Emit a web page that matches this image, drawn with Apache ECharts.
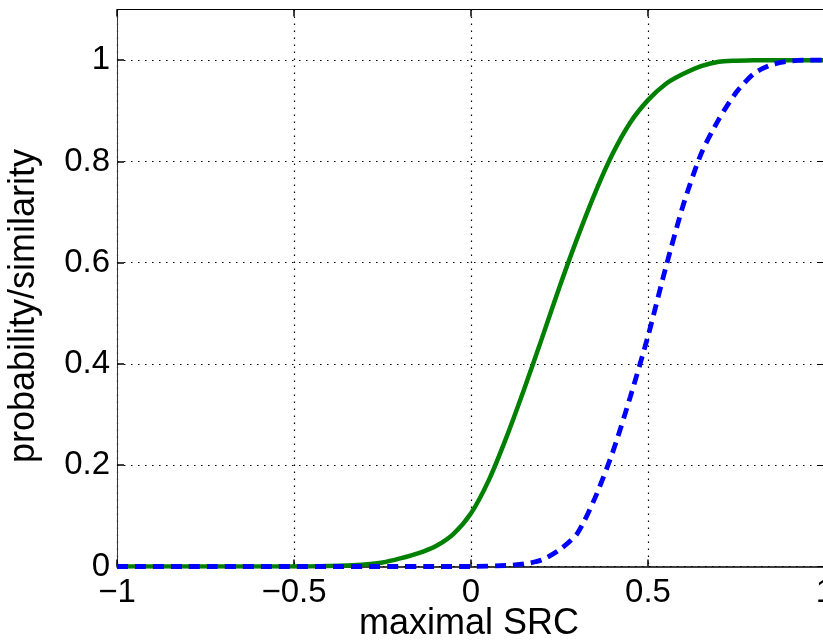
<!DOCTYPE html>
<html>
<head>
<meta charset="utf-8">
<script src="https://cdn.jsdelivr.net/npm/echarts@6/dist/echarts.min.js"></script>
<style>
html, body { margin: 0; padding: 0; background: #fff; }
#chart { width: 823px; height: 642px; }
</style>
</head>
<body>
<div id="chart"></div>
<script>
// x positions and values
var greenX = [-1, -0.5, -0.4, -0.35, -0.3, -0.25, -0.2, -0.15, -0.1, -0.05, 0, 0.05, 0.1, 0.15, 0.2, 0.25, 0.3, 0.35, 0.4, 0.45, 0.5, 0.55, 0.6, 0.65, 0.7, 0.75, 0.8, 0.9, 1];
var greenY = [0, 0, 0.001, 0.002, 0.004, 0.008, 0.016, 0.026, 0.04, 0.064, 0.105, 0.17, 0.255, 0.35, 0.45, 0.552, 0.648, 0.737, 0.815, 0.877, 0.921, 0.953, 0.973, 0.988, 0.997, 0.999, 1, 1, 1];
var blueX = [-1, 0, 0.1, 0.15, 0.2, 0.25, 0.3, 0.35, 0.4, 0.45, 0.5, 0.55, 0.6, 0.65, 0.7, 0.75, 0.8, 0.85, 0.9, 0.95, 1];
var blueY = [0, 0, 0.002, 0.005, 0.013, 0.033, 0.065, 0.135, 0.225, 0.335, 0.455, 0.59, 0.715, 0.815, 0.883, 0.937, 0.974, 0.991, 0.998, 1, 1];
var xTicks = [-1, -0.5, 0, 0.5, 1];
var yTicks = [0, 0.2, 0.4, 0.6, 0.8, 1];
var xName = 'maximal SRC';
var yName = 'probability/similarity';

function pairs(xs, ys) { return xs.map(function (x, i) { return [x, ys[i]]; }); }
var FONT = 'Liberation Sans, Arial, Helvetica, sans-serif';

var chart = echarts.init(document.getElementById('chart'), null, { renderer: 'canvas' });
var gridLine = { show: true, lineStyle: { color: '#000', width: 1.2, type: [1.5, 5.5] } };
chart.setOption({
  animation: false,
  backgroundColor: '#fff',
  grid: { left: 117, right: -2, top: 9.5, bottom: 75.5, containLabel: false, outerBoundsMode: 'none' },
  xAxis: [{
    type: 'value', min: -1, max: 1, interval: 0.5, position: 'bottom',
    axisLine: { show: true, onZero: false, lineStyle: { color: '#000', width: 1.5 } },
    axisTick: { show: true, inside: true, length: 7, customValues: xTicks, lineStyle: { color: '#000', width: 1.5 } },
    axisLabel: { customValues: xTicks, showMinLabel: true, showMaxLabel: true, hideOverlap: false, color: '#000', fontSize: 33, fontFamily: FONT, margin: 10,
      formatter: function (v) { return String(v).replace('-', '\u2212'); } },
    splitLine: gridLine
  }, {
    type: 'value', min: -1, max: 1, interval: 0.5, position: 'top',
    axisLine: { show: true, onZero: false, lineStyle: { color: '#000', width: 1 } },
    axisTick: { show: true, inside: true, length: 7, customValues: xTicks, lineStyle: { color: '#000', width: 1.5 } },
    axisLabel: { show: false }, splitLine: { show: false }
  }],
  yAxis: [{
    type: 'value', min: 0, max: 1.1, interval: 0.2, position: 'left',
    axisLine: { show: true, onZero: false, lineStyle: { color: '#333', width: 1 } },
    axisTick: { show: true, inside: true, length: 7, customValues: yTicks, lineStyle: { color: '#000', width: 1.5 } },
    axisLabel: { customValues: yTicks, color: '#000', fontSize: 33, fontFamily: FONT, margin: 7,
      formatter: function (v) { return v > 1.05 ? '' : String(+v.toFixed(1)); } },
    splitLine: gridLine
  }, {
    type: 'value', min: 0, max: 1.1, interval: 0.2, position: 'right',
    axisLine: { show: true, onZero: false, lineStyle: { color: '#000', width: 1 } },
    axisTick: { show: true, inside: true, length: 7, customValues: yTicks },
    axisLabel: { show: false }, splitLine: { show: false }
  }],
  graphic: [{
    type: 'text', x: 469, y: 624,
    style: { text: xName, font: '36px ' + FONT, fill: '#000', align: 'center', verticalAlign: 'middle' }
  }, {
    type: 'text', x: 24, y: 306, rotation: Math.PI / 2,
    style: { text: yName, font: '36px ' + FONT, fill: '#000', align: 'center', verticalAlign: 'middle' }
  }],
  series: [{
    type: 'line', data: pairs(greenX, greenY), showSymbol: false, smooth: 0.25,
    lineStyle: { color: '#008000', width: 4.5 }, z: 3
  }, {
    type: 'line', data: pairs(blueX, blueY), showSymbol: false, smooth: 0.25,
    lineStyle: { color: '#0000ff', width: 4.8, type: [11, 7], cap: 'butt' }, z: 4
  }]
});
</script>
</body>
</html>
